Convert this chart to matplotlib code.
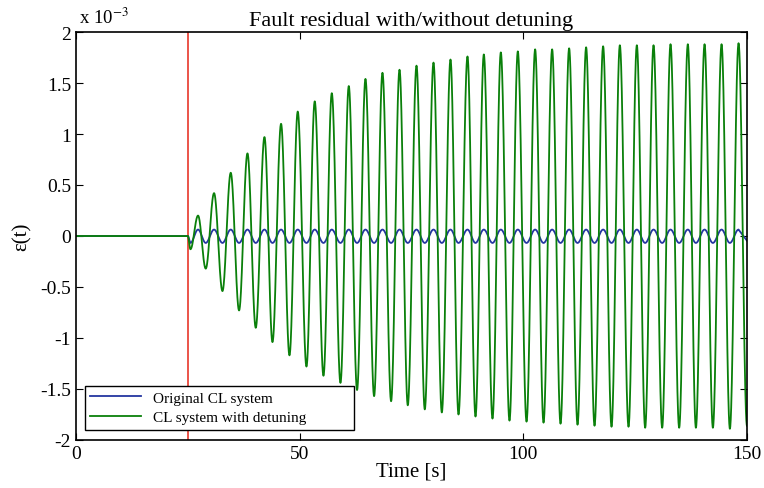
import numpy as np
import matplotlib
matplotlib.use("Agg")
import matplotlib.pyplot as plt
from matplotlib.ticker import FuncFormatter

# fault time
t_fault = 25.0
t_end = 150.0

# green (with detuning): extrema, values in 1e-3
green_peak_t = [27.28, 30.86, 34.59, 38.33, 42.13, 45.84, 49.57, 53.37, 57.18, 60.98,
                64.71, 68.51, 72.32, 76.12, 79.92, 83.72, 87.52, 91.17, 94.97, 98.77,
                102.64, 106.44, 110.24, 114.04, 117.84, 121.58, 125.38, 129.11, 132.91,
                136.78, 140.52, 144.32, 148.12]
green_peak_v = [0.20, 0.42, 0.62, 0.81, 0.97, 1.10, 1.22, 1.32, 1.40, 1.47,
                1.54, 1.60, 1.63, 1.67, 1.70, 1.73, 1.76, 1.78, 1.80, 1.81,
                1.83, 1.83, 1.84, 1.85, 1.86, 1.87, 1.87, 1.87, 1.88,
                1.88, 1.88, 1.88, 1.89]
green_trough_t = [25.58, 29.00, 32.74, 36.45, 40.18, 43.92, 47.72, 51.52, 55.32, 59.12,
                  62.83, 66.64, 70.44, 74.17, 77.97, 81.78, 85.51, 89.31, 93.11, 96.91,
                  100.72, 104.52, 108.32, 112.12, 115.92, 119.72, 123.52, 127.24, 131.04,
                  134.84, 138.58, 142.38, 146.18, 150.0]
green_trough_v = [-0.13, -0.32, -0.54, -0.73, -0.90, -1.04, -1.17, -1.28, -1.37, -1.44,
                  -1.51, -1.57, -1.62, -1.66, -1.70, -1.73, -1.75, -1.77, -1.79, -1.81,
                  -1.82, -1.83, -1.84, -1.85, -1.86, -1.87, -1.87, -1.88, -1.88,
                  -1.88, -1.88, -1.88, -1.89, -1.86]

# blue (original): same timing, small constant swing (1e-3)
blue_peak = 0.063
blue_trough = -0.068


def through_extrema(t_list, v_list, n=40):
    # half-cosine segments between successive extrema
    ts, vs = [], []
    for i in range(len(t_list) - 1):
        s = np.linspace(0, 1, n, endpoint=False)
        ts.append(t_list[i] + (t_list[i + 1] - t_list[i]) * s)
        vs.append(v_list[i] + (v_list[i + 1] - v_list[i]) * (1 - np.cos(np.pi * s)) / 2)
    ts.append([t_list[-1]])
    vs.append([v_list[-1]])
    return np.concatenate(ts), np.concatenate(vs)


def build(peak_t, peak_v, trough_t, trough_v):
    pts = sorted(list(zip(peak_t, peak_v)) + list(zip(trough_t, trough_v)))
    tt = [t_fault] + [p[0] for p in pts]
    vv = [0.0] + [p[1] for p in pts]
    t1, v1 = through_extrema(tt, vv)
    return np.concatenate([[0.0], t1]), np.concatenate([[0.0], v1]) * 1e-3


tg, yg = build(green_peak_t, green_peak_v, green_trough_t, green_trough_v)
tb, yb = build(green_peak_t, [blue_peak] * len(green_peak_t),
               green_trough_t[:-1], [blue_trough] * (len(green_trough_t) - 1))
# blue ends slightly above trough at t=150
tb = np.append(tb, t_end)
yb = np.append(yb, -0.046e-3)

plt.rcParams['font.family'] = ['Liberation Serif', 'DejaVu Serif']
plt.rcParams['mathtext.fontset'] = 'stix'

fig = plt.figure(figsize=(7.64, 4.89), dpi=100)
ax = fig.add_axes([0.0995, 0.0982, 0.8782, 0.8343])

ax.axvline(t_fault, color='#e8372a', lw=1.2)
ax.plot(tb, yb, color='#2436a0', lw=1.3, label='Original CL system')
ax.plot(tg, yg, color='#0a800a', lw=1.3, label='CL system with detuning')

ax.set_xlim(0, 150)
ax.set_ylim(-2e-3, 2e-3)
ax.set_xticks([0, 50, 100, 150])
ax.set_yticks(np.arange(-2, 2.01, 0.5) * 1e-3)
ax.yaxis.set_major_formatter(FuncFormatter(lambda v, p: ('%g' % round(v * 1e3, 2)).replace('\u2212', '-')))
ax.tick_params(direction='in', top=True, right=True, labelsize=14, length=5, width=0.8)
for s in ax.spines.values():
    s.set_linewidth(1.2)

ax.text(0.005, 1.012, r'x 10$^{-3}$', transform=ax.transAxes, fontsize=13.5, va='bottom')
ax.set_title('Fault residual with/without detuning', fontsize=16, pad=5)
ax.set_xlabel('Time [s]', fontsize=15, labelpad=0)
ax.set_ylabel('\u03b5(t)', fontsize=15, labelpad=6)

leg = ax.legend(loc='lower left', bbox_to_anchor=(0.013, 0.025, 0.402, 0.11), mode='expand',
                borderaxespad=0, fancybox=False, framealpha=1, edgecolor='black',
                fontsize=11, handlelength=3.3, labelspacing=0.4, borderpad=0.35)
leg.get_frame().set_linewidth(1.0)

fig.savefig('out.png', dpi=100)
